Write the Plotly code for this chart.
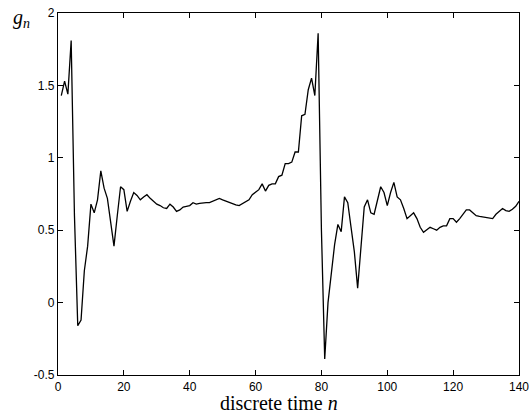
import plotly.graph_objects as go

n_values = list(range(1, 141))
g_values = [
    1.43, 1.53, 1.44, 1.81, 0.60, -0.16, -0.12, 0.22, 0.39, 0.68,
    0.62, 0.71, 0.91, 0.79, 0.72, 0.55, 0.39, 0.60, 0.80, 0.78,
    0.63, 0.70, 0.76, 0.74, 0.71, 0.73, 0.745, 0.72, 0.70, 0.68,
    0.67, 0.655, 0.65, 0.68, 0.66, 0.63, 0.64, 0.66, 0.665, 0.67,
    0.69, 0.68, 0.685, 0.69, 0.69, 0.69, 0.70, 0.71, 0.72, 0.71,
    0.70, 0.69, 0.68, 0.675, 0.67, 0.685, 0.70, 0.71, 0.745, 0.76,
    0.78, 0.82, 0.77, 0.81, 0.82, 0.82, 0.87, 0.88, 0.96, 0.96,
    0.97, 1.04, 1.04, 1.29, 1.30, 1.47, 1.55, 1.43, 1.86, 0.50,
    -0.39, 0.0, 0.20, 0.40, 0.54, 0.49, 0.73, 0.69, 0.52, 0.35,
    0.10, 0.38, 0.66, 0.71, 0.62, 0.61, 0.70, 0.80, 0.76, 0.67,
    0.76, 0.83, 0.73, 0.71, 0.65, 0.58, 0.60, 0.62, 0.58, 0.52,
    0.485, 0.50, 0.52, 0.51, 0.50, 0.52, 0.53, 0.53, 0.58, 0.58,
    0.555, 0.58, 0.61, 0.64, 0.64, 0.62, 0.60, 0.595, 0.59, 0.59,
    0.585, 0.58, 0.61, 0.63, 0.65, 0.635, 0.63, 0.645, 0.665, 0.70,
]
x_ticks = [0, 20, 40, 60, 80, 100, 120, 140]
y_ticks = [-0.5, 0, 0.5, 1, 1.5, 2]
y_tick_labels = ["-0.5", "0", "0.5", "1", "1.5", "2"]

fig = go.Figure()
fig.add_trace(go.Scatter(
    x=n_values, y=g_values, mode="lines",
    line=dict(color="black", width=1.3),
    showlegend=False,
))

axis_common = dict(
    showgrid=False, zeroline=False,
    showline=True, linecolor="black", linewidth=1.2,
    mirror="ticks", ticks="inside", ticklen=5, tickcolor="black",
    ticklabeloverflow="allow",
    tickfont=dict(family="Liberation Sans, Arial", size=12, color="black"),
)
fig.update_xaxes(range=[0, 140], tickvals=x_ticks, ticklabelstandoff=0, **axis_common)
fig.update_yaxes(range=[-0.5, 2], tickvals=y_ticks, ticktext=y_tick_labels, **axis_common)

fig.add_annotation(
    text="discrete time <i>n</i>", xref="paper", yref="paper",
    x=0.48, y=0, yanchor="middle", xanchor="center", yshift=-28,
    showarrow=False,
    font=dict(family="Liberation Serif, Times New Roman", size=20, color="black"),
)
fig.add_annotation(
    text="<i>g<sub>n</sub></i>", xref="paper", yref="paper",
    x=0, y=1, xanchor="center", yanchor="middle", xshift=-37, yshift=-5,
    showarrow=False,
    font=dict(family="Liberation Serif, Times New Roman", size=20, color="black"),
)

fig.update_layout(
    width=529, height=414,
    margin=dict(l=58, r=10, t=13, b=39, autoexpand=False),
    paper_bgcolor="white", plot_bgcolor="white",
)
fig.write_html("out.html", config={"displayModeBar": False},
               post_script="document.body.style.margin='0';")
